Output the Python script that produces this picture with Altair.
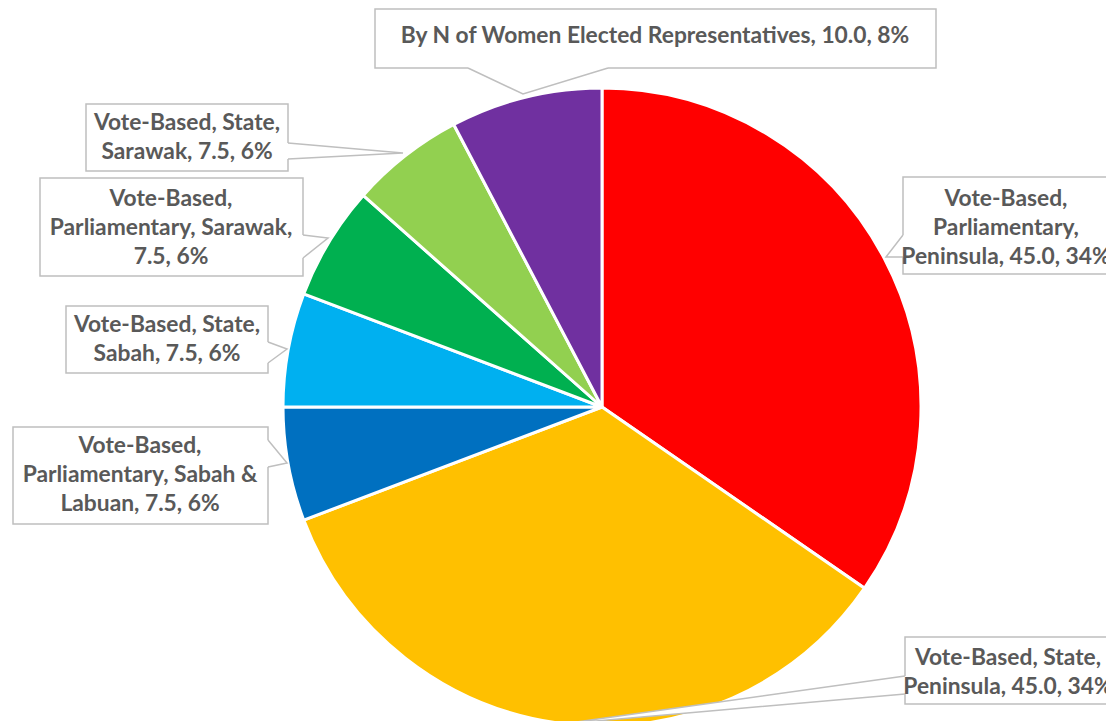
import altair as alt
import pandas as pd

# ---------------- data ----------------
categories = [
    "Vote-Based, Parliamentary, Peninsula",
    "Vote-Based, State, Peninsula",
    "Vote-Based, Parliamentary, Sabah & Labuan",
    "Vote-Based, State, Sabah",
    "Vote-Based, Parliamentary, Sarawak",
    "Vote-Based, State, Sarawak",
    "By N of Women Elected Representatives",
]
values = [45.0, 45.0, 7.5, 7.5, 7.5, 7.5, 10.0]
percent_labels = ["34%", "34%", "6%", "6%", "6%", "6%", "8%"]
colors = ["#FF0000", "#FFC000", "#0070C0", "#00B0F0", "#00B050", "#92D050", "#7030A0"]

# how each data label wraps into lines (text only)
label_breaks = [
    ["Vote-Based,", "Parliamentary,", "Peninsula, {v}, {p}"],
    ["Vote-Based, State,", "Peninsula, {v}, {p}"],
    ["Vote-Based,", "Parliamentary, Sabah &", "Labuan, {v}, {p}"],
    ["Vote-Based, State,", "Sabah, {v}, {p}"],
    ["Vote-Based,", "Parliamentary, Sarawak,", "{v}, {p}"],
    ["Vote-Based, State,", "Sarawak, {v}, {p}"],
    ["By N of Women Elected Representatives, {v}, {p}"],
]

# ---------------- layout (page pixels) ----------------
OFF = 8
W, H = 1098, 713
CX, CY, R = 602, 407, 319
LH = 29
# box (x0, y0, x1, y1), tip (tx, ty), side, base (b1, b2), text centre (cx, cy)
callouts = [
    ((903, 177, 1127, 274), (886, 257), "left", (235, 257), (1006, 229)),
    ((905, 637, 1131, 704), (562, 724), "left", (676, 694), (1008, 673)),
    ((13, 427, 268, 524), (287, 463), "right", (440, 467), (140, 476)),
    ((66, 306, 268, 373), (287, 349), "right", (342, 363), (167, 340)),
    ((40, 178, 303, 276), (328, 238), "right", (235, 258), (171, 229)),
    ((86, 104, 288, 171), (403, 153), "right", (143, 159), (187, 138)),
    ((375, 5, 936, 68), (523, 94), "bottom", (468, 608), (655, 37)),
]

pie_df = pd.DataFrame({
    "category": categories,
    "value": values,
    "idx": list(range(len(values))),
})

box_rows, area_rows, line_rows, text_rows = [], [], [], []
for i, (box, tip, side, base, tc) in enumerate(callouts):
    x0, y0, x1, y1 = box
    x0, x1 = x0 - OFF, x1 - OFF
    y0, y1 = max(y0 - OFF, 1), y1 - OFF
    tx, ty = tip[0] - OFF, tip[1] - OFF
    b1, b2 = base[0] - OFF, base[1] - OFF
    box_rows.append({"id": i, "x0": x0, "x1": x1, "y0": y0, "y1": y1})
    if side in ("left", "right"):
        bx = x0 if side == "left" else x1
        inward = 2 if side == "left" else -2
        area_rows += [
            {"id": i, "x": tx, "y": ty, "y2": ty},
            {"id": i, "x": bx, "y": b1, "y2": b2},
            {"id": i, "x": bx + inward, "y": b1, "y2": b2},
        ]
        line_rows += [
            {"id": i, "s": 0, "x": bx, "y": b1},
            {"id": i, "s": 1, "x": tx, "y": ty},
            {"id": i, "s": 2, "x": bx, "y": b2},
        ]
    else:
        by = y1
        area_rows += [
            {"id": i, "x": b1, "y": by - 2, "y2": by},
            {"id": i, "x": tx, "y": by - 2, "y2": ty},
            {"id": i, "x": b2, "y": by - 2, "y2": by},
        ]
        line_rows += [
            {"id": i, "s": 0, "x": b1, "y": by},
            {"id": i, "s": 1, "x": tx, "y": ty},
            {"id": i, "s": 2, "x": b2, "y": by},
        ]
    v = values[i]
    lines = [l.format(v=f"{v:.1f}", p=percent_labels[i]) for l in label_breaks[i]]
    first_y = tc[1] - (len(lines) - 1) * LH / 2 - 1
    text_rows.append({"id": i, "x": tc[0] - OFF, "y": first_y - OFF, "label": "\n".join(lines)})

box_df = pd.DataFrame(box_rows)
area_df = pd.DataFrame(area_rows)
line_df = pd.DataFrame(line_rows)
text_df = pd.DataFrame(text_rows)

xs = alt.Scale(domain=[0, W], nice=False, zero=False)
ys = alt.Scale(domain=[0, H], nice=False, zero=False, reverse=True)

pie = alt.Chart(pie_df).mark_arc(radius=R, stroke="white", strokeWidth=3).encode(
    theta=alt.Theta("value:Q", stack=True),
    color=alt.Color("category:N", scale=alt.Scale(domain=categories, range=colors), legend=None),
    order=alt.Order("idx:Q"),
    x=alt.value(CX - OFF),
    y=alt.value(CY - OFF),
)

boxes = alt.Chart(box_df).mark_rect(fill="white", stroke="#BFBFBF", strokeWidth=1.5).encode(
    x=alt.X("x0:Q", scale=xs, axis=None),
    x2="x1:Q",
    y=alt.Y("y0:Q", scale=ys, axis=None),
    y2="y1:Q",
)

wedges = alt.Chart(area_df).mark_area(color="white", opacity=1).encode(
    x=alt.X("x:Q", scale=xs, axis=None),
    y=alt.Y("y:Q", scale=ys, axis=None, stack=None),
    y2="y2:Q",
    detail="id:N",
)

edges = alt.Chart(line_df).mark_line(color="#BFBFBF", strokeWidth=1.5).encode(
    x=alt.X("x:Q", scale=xs, axis=None),
    y=alt.Y("y:Q", scale=ys, axis=None),
    detail="id:N",
    order="s:Q",
)

texts = alt.Chart(text_df).mark_text(
    font="Lato", fontWeight="bold", fontSize=22.8, color="#595959",
    lineBreak="\n", lineHeight=LH, align="center", baseline="middle",
).encode(
    x=alt.X("x:Q", scale=xs, axis=None),
    y=alt.Y("y:Q", scale=ys, axis=None),
    text="label:N",
)

chart = alt.layer(pie, boxes, wedges, edges, texts).properties(
    width=W, height=H, padding=0,
    autosize=alt.AutoSizeParams(type="none"),
    background="white",
).configure_view(stroke=None)

chart.save("out.html", embed_options={"renderer": "svg", "actions": False})
